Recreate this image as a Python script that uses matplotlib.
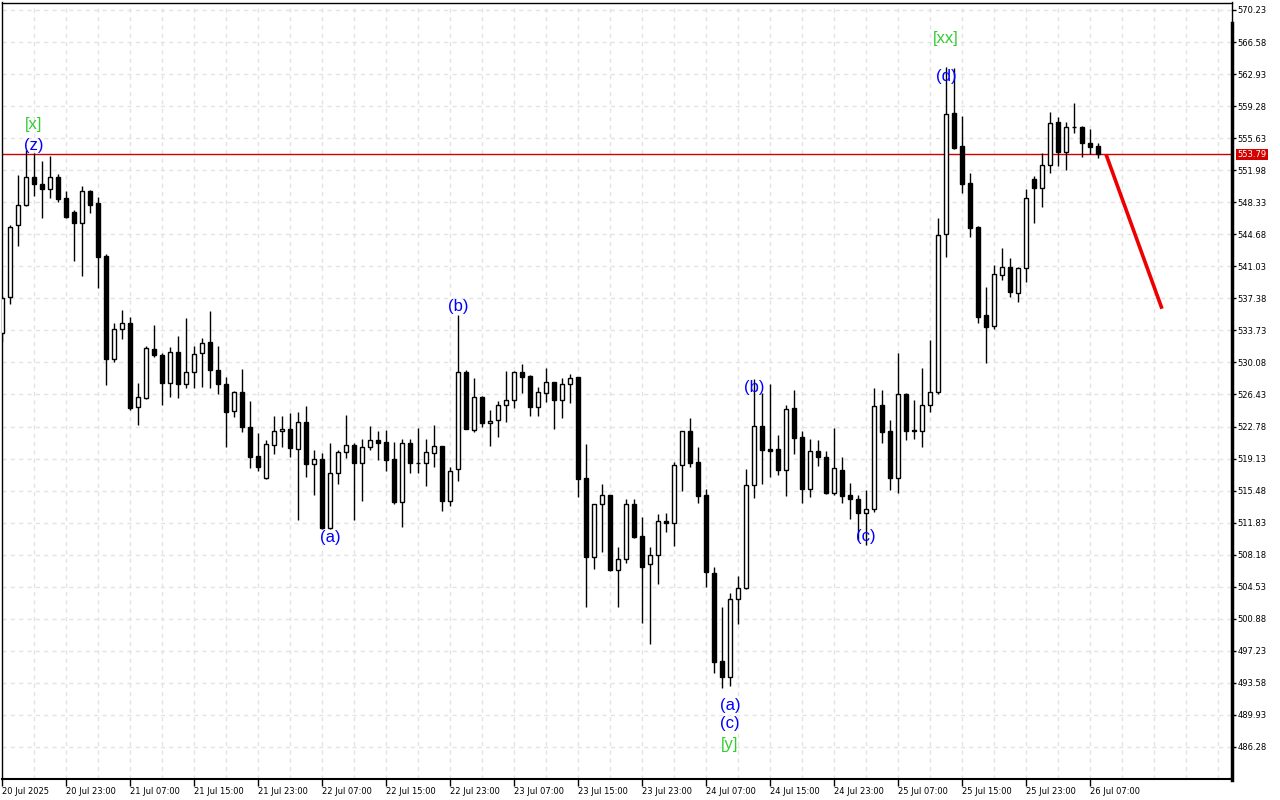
import matplotlib
matplotlib.use("Agg")
from matplotlib import pyplot as plt
from matplotlib import transforms
from matplotlib.lines import Line2D
import numpy as np

# hourly candles, first one is 20 Jul 2025 15:00
opens = [533.43, 537.54, 545.74, 548.02, 551.21, 550.41, 549.84, 551.21, 548.81, 547.22,
         545.97, 549.61, 548.24, 542.21, 530.47, 533.89, 534.57, 525.00, 526.03, 531.61,
         530.93, 527.74, 531.27, 527.62, 528.99, 531.16, 532.41, 529.22, 527.62, 524.55,
         526.71, 522.73, 519.42, 516.92, 520.68, 522.27, 522.50, 520.22, 523.30, 518.51,
         519.08, 511.22, 517.49, 519.88, 520.68, 518.63, 520.45, 521.25, 521.02, 519.08,
         514.18, 520.90, 518.63, 518.63, 519.76, 520.56, 514.30, 517.94, 528.99, 522.38,
         526.14, 523.18, 523.52, 525.23, 525.80, 528.99, 528.54, 525.00, 526.60, 527.85,
         525.80, 527.62, 528.42, 516.92, 507.92, 513.95, 514.98, 506.44, 507.69, 513.95,
         510.31, 507.12, 508.14, 512.02, 511.79, 518.40, 522.27, 518.74, 514.98, 506.09,
         496.07, 494.25, 503.13, 504.38, 516.12, 522.84, 520.22, 520.22, 517.83, 524.89,
         521.59, 515.66, 519.99, 519.31, 515.21, 517.83, 514.98, 514.52, 512.93, 513.38,
         525.23, 522.27, 516.92, 526.49, 522.38, 522.27, 525.23, 526.71, 544.71, 558.50,
         554.74, 550.52, 545.51, 535.49, 534.23, 540.04, 540.95, 537.99, 540.84, 550.98,
         549.95, 552.57, 557.47, 554.05, 556.90, 556.90, 555.08, 554.74]
highs = [537.65, 545.74, 551.43, 554.28, 553.94, 553.03, 553.60, 551.55, 549.61, 547.45,
         550.18, 549.73, 548.93, 542.43, 534.57, 536.05, 535.26, 527.74, 531.95, 534.35,
         531.16, 531.84, 533.09, 535.14, 531.95, 532.86, 535.94, 531.95, 528.42, 526.83,
         529.33, 525.69, 522.04, 521.24, 523.98, 523.98, 524.32, 524.43, 525.12, 520.11,
         519.76, 520.90, 520.11, 524.09, 520.90, 521.36, 522.84, 522.27, 522.38, 521.02,
         521.36, 521.36, 522.61, 521.36, 522.95, 520.60, 518.17, 535.48, 529.22, 528.31,
         526.20, 524.66, 525.69, 529.11, 529.11, 529.90, 528.65, 527.28, 529.45, 527.90,
         528.31, 528.76, 528.45, 520.79, 514.00, 516.23, 515.00, 509.06, 514.52, 514.52,
         512.47, 509.06, 512.81, 512.93, 518.74, 522.30, 523.75, 520.45, 515.66, 506.78,
         502.22, 503.81, 505.75, 517.94, 528.19, 526.60, 527.62, 521.81, 525.23, 526.94,
         522.27, 521.36, 521.25, 519.99, 522.61, 519.31, 516.35, 514.98, 515.55, 527.17,
         526.94, 523.52, 531.16, 526.60, 525.80, 529.45, 532.64, 546.54, 563.74, 563.62,
         558.16, 551.66, 545.62, 538.68, 541.18, 543.12, 541.98, 540.90, 549.84, 551.32,
         553.94, 558.61, 558.04, 557.47, 559.64, 557.02, 556.67, 555.08]
lows = [532.41, 536.74, 543.35, 547.90, 549.04, 546.54, 548.81, 548.36, 546.54, 541.64,
        539.93, 547.11, 538.56, 527.51, 530.13, 532.75, 524.66, 522.95, 525.92, 530.70,
        525.23, 526.14, 526.03, 527.17, 527.17, 527.28, 527.17, 526.49, 520.45, 523.86,
        522.16, 518.05, 517.71, 516.80, 519.65, 520.45, 519.31, 512.13, 517.03, 514.98,
        511.11, 511.11, 516.23, 519.19, 512.13, 514.30, 520.11, 518.97, 517.71, 513.95,
        511.33, 517.49, 517.49, 516.00, 518.17, 513.16, 513.73, 516.57, 522.45, 522.16,
        522.73, 520.56, 521.59, 523.30, 524.89, 526.60, 523.98, 523.98, 525.57, 522.50,
        523.75, 525.46, 514.75, 502.22, 506.55, 508.49, 506.32, 502.22, 507.23, 510.08,
        500.40, 498.01, 504.84, 510.76, 509.17, 515.43, 518.17, 514.07, 504.50, 494.70,
        492.99, 493.22, 500.29, 504.27, 514.64, 516.23, 517.03, 517.26, 514.87, 519.65,
        514.07, 514.75, 518.28, 515.09, 514.98, 514.07, 512.25, 509.85, 509.28, 513.04,
        520.90, 515.55, 515.21, 521.25, 521.36, 520.45, 524.43, 526.49, 542.09, 554.45,
        549.38, 544.37, 534.57, 530.02, 533.89, 539.47, 537.54, 536.97, 539.25, 545.97,
        547.79, 551.66, 552.46, 552.00, 556.22, 553.48, 553.83, 553.37]
closes = [537.42, 545.51, 548.02, 551.21, 550.41, 549.84, 551.21, 548.70, 546.65, 545.97,
          549.61, 548.02, 542.09, 530.47, 533.89, 534.57, 524.89, 526.14, 531.73, 530.93,
          527.74, 531.27, 527.62, 528.99, 531.04, 532.29, 529.22, 527.62, 524.43, 526.71,
          522.73, 519.31, 518.17, 520.79, 522.27, 522.50, 520.33, 523.30, 518.51, 519.08,
          511.22, 517.49, 519.88, 520.68, 518.63, 520.45, 521.25, 520.90, 518.97, 514.18,
          520.90, 518.63, 518.60, 519.88, 520.56, 514.30, 517.71, 528.99, 522.50, 526.14,
          523.18, 523.41, 525.23, 525.80, 528.99, 528.42, 525.00, 526.71, 527.85, 525.80,
          527.62, 528.31, 516.80, 507.92, 513.95, 514.98, 506.44, 507.69, 513.95, 510.19,
          506.78, 508.14, 512.02, 511.79, 518.40, 522.27, 518.63, 514.87, 506.21, 495.95,
          494.25, 503.13, 504.38, 516.12, 522.84, 520.11, 519.99, 517.83, 524.78, 521.47,
          515.66, 519.99, 519.31, 515.21, 518.05, 514.87, 514.52, 512.93, 513.38, 525.12,
          522.16, 516.92, 526.49, 522.27, 522.27, 525.23, 526.71, 544.60, 558.38, 554.51,
          550.41, 545.40, 535.26, 534.12, 540.16, 540.95, 538.11, 540.84, 548.81, 549.95,
          552.57, 557.36, 554.05, 556.90, 556.95, 555.08, 554.62, 553.79]

tick_labels = ["20 Jul 2025", "20 Jul 23:00", "21 Jul 07:00", "21 Jul 15:00", "21 Jul 23:00",
               "22 Jul 07:00", "22 Jul 15:00", "22 Jul 23:00", "23 Jul 07:00", "23 Jul 15:00",
               "23 Jul 23:00", "24 Jul 07:00", "24 Jul 15:00", "24 Jul 23:00", "25 Jul 07:00",
               "25 Jul 15:00", "25 Jul 23:00", "26 Jul 07:00"]
price_ticks = [570.23, 566.58, 562.93, 559.28, 555.63, 551.98, 548.33, 544.68, 541.03, 537.38,
               533.73, 530.08, 526.43, 522.78, 519.13, 515.48, 511.83, 508.18, 504.53, 500.88,
               497.23, 493.58, 489.93, 486.28]
current_price = 553.79

# forecast arrow (bar index, price)
forecast_idx = [138, 145]
forecast_price = [553.79, 536.2]

# wave marks: bar index, price, text, colour
wave_labels = [
    (4, 557.24, "[x]", "limegreen"),
    (4, 554.85, "(z)", "blue"),
    (41, 510.1, "(a)", "blue"),
    (57, 536.5, "(b)", "blue"),
    (94, 527.2, "(b)", "blue"),
    (91, 491.0, "(a)", "blue"),
    (91, 489.0, "(c)", "blue"),
    (91, 486.6, "[y]", "limegreen"),
    (108, 510.2, "(c)", "blue"),
    (118, 562.7, "(d)", "blue"),
    (118, 567.0, "[xx]", "limegreen"),
]

fig = plt.figure(figsize=(12.8, 8), dpi=100, facecolor="white")
ax = fig.add_axes([2 / 1280, 21 / 800, 1230 / 1280, 776.5 / 800])

n = len(opens)
idx = np.arange(n)
o = np.array(opens)
c = np.array(closes)

ax.vlines(idx, lows, highs, color="black", linewidth=1, zorder=3)
up = c >= o
bottoms = np.minimum(o, c)
heights = np.maximum(np.abs(c - o), 0.05)
ax.bar(idx[up], heights[up], bottom=bottoms[up], width=0.6, color="white",
       edgecolor="black", linewidth=1, zorder=4)
ax.bar(idx[~up], heights[~up], bottom=bottoms[~up], width=0.6, color="black",
       edgecolor="black", linewidth=1, zorder=4)

ax.axhline(current_price, color="#d40000", linewidth=1, zorder=2)
ax.plot(forecast_idx, forecast_price, color="#ee0000", linewidth=2.6, zorder=5,
        solid_capstyle="butt")

for xi, yi, txt, col in wave_labels:
    ax.text(xi, yi, txt, color=col, fontsize=12, family="Liberation Sans",
            ha="center", va="center", zorder=6)

ax.set_xlim(0, 1230 / 8)
ax.set_ylim(570.23 - 769 / 8.778, 570.23 + 7.5 / 8.778)

# grid
for g in range(4, 154, 4):
    ax.axvline(g, color="#e3e3e3", linewidth=1, linestyle=(0, (3, 3)), zorder=1)
for p in price_ticks:
    ax.axhline(p, color="#e3e3e3", linewidth=1, linestyle=(0, (3, 3)), zorder=1)

ax.yaxis.tick_right()
ax.set_yticks(price_ticks)
ax.set_yticklabels([f"{p:.2f}" for p in price_ticks])
ax.set_xticks(np.arange(0, 8 * len(tick_labels), 8))
ax.set_xticklabels(tick_labels)
for lab in ax.get_xticklabels():
    lab.set_horizontalalignment("left")
ax.tick_params(axis="y", labelsize=6, length=3, width=1, pad=1)
ax.tick_params(axis="x", labelsize=6, length=5, width=1, pad=1)

for side in ["top", "left", "right"]:
    ax.spines[side].set_linewidth(1)
ax.spines["bottom"].set_linewidth(1.5)

# heavier right edge below the top corner, like the terminal frame
fig.add_artist(Line2D([1231.5 / 1280, 1231.5 / 1280], [0 / 800 + 20 / 800, 777 / 800],
                      transform=fig.transFigure, color="black", linewidth=2.5))

trans = transforms.blended_transform_factory(ax.transAxes, ax.transData)
ax.text(1.0045, current_price, f"{current_price:.2f}", transform=trans, fontsize=6,
        color="white", va="center", ha="left",
        bbox=dict(boxstyle="square,pad=0.15", facecolor="#d40000", edgecolor="none"))

plt.savefig("out.png", dpi=100, facecolor="white")
